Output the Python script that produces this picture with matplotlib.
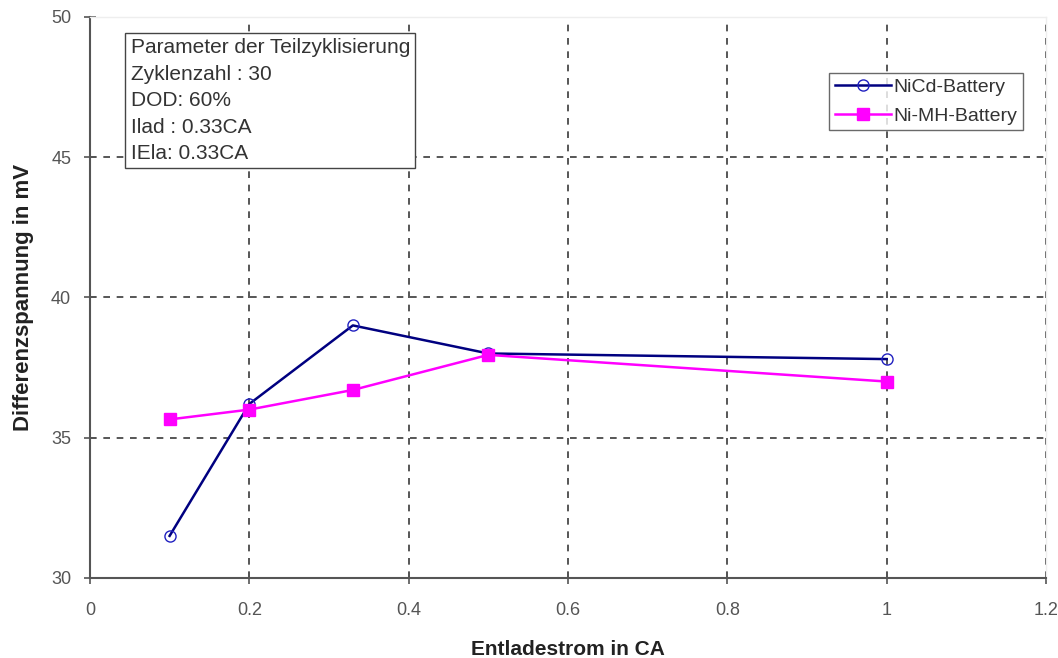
import matplotlib
matplotlib.use("Agg")
import matplotlib.pyplot as plt

# Discharge current (C-rate) and differential voltage (mV)
current_ca = [0.1, 0.2, 0.33, 0.5, 1.0]
nicd_mv = [31.5, 36.2, 39.0, 38.0, 37.8]
nimh_mv = [35.65, 36.0, 36.7, 37.95, 37.0]

x_ticks = [0, 0.2, 0.4, 0.6, 0.8, 1, 1.2]
x_tick_labels = ["0", "0.2", "0.4", "0.6", "0.8", "1", "1.2"]
y_ticks = [30, 35, 40, 45, 50]

params_text = ("Parameter der Teilzyklisierung\n"
               "Zyklenzahl : 30\n"
               "DOD: 60%\n"
               "Ilad : 0.33CA\n"
               "IEla: 0.33CA")

plt.rcParams["font.family"] = ["Liberation Sans", "DejaVu Sans"]

fig = plt.figure(figsize=(10.58, 6.58), dpi=100)
ax = fig.add_axes([0.085, 0.1216, 0.9037, 0.853])

ax.plot(current_ca, nicd_mv, color="#000080", lw=1.8, marker="o",
        markersize=8, markerfacecolor="none", markeredgecolor="#2020c0",
        markeredgewidth=1.0, label="NiCd-Battery", zorder=3)
ax.plot(current_ca, nimh_mv, color="#ff00ff", lw=1.8, marker="s",
        markersize=9, markerfacecolor="#ff00ff", markeredgecolor="#ff00ff",
        label="Ni-MH-Battery", zorder=3)

ax.set_xlim(0, 1.2)
ax.set_ylim(30, 50)
ax.set_xticks(x_ticks)
ax.set_xticklabels(x_tick_labels)
ax.set_yticks(y_ticks)

ax.grid(True, color="#3a3a3a", linestyle=(0, (4, 4)), linewidth=1.2)
ax.set_axisbelow(True)

for side in ("left", "bottom"):
    ax.spines[side].set_color("#555555")
    ax.spines[side].set_linewidth(1.5)
for side in ("top", "right"):
    ax.spines[side].set_color("#eeeeee")
    ax.spines[side].set_linewidth(1.0)

ax.tick_params(axis="both", direction="inout", length=9, width=1.2,
               color="#555555", labelcolor="#555555", labelsize=13)
ax.tick_params(axis="x", pad=13)
ax.tick_params(axis="y", pad=9)

ax.set_xlabel("Entladestrom in CA", fontsize=15, fontweight="bold",
              color="#222222", labelpad=15)
ax.set_ylabel("Differenzspannung in mV", fontsize=16, fontweight="bold",
              color="#222222", labelpad=12)

ax.text(0.0425, 0.962, params_text, transform=ax.transAxes, fontsize=15,
        color="#333333", va="top", ha="left", linespacing=1.5,
        bbox=dict(boxstyle="square,pad=0.25", facecolor="white",
                  edgecolor="#444444", linewidth=1.0), zorder=4)

leg = ax.legend(loc="upper right", bbox_to_anchor=(0.976, 0.9),
                fontsize=14, frameon=True, fancybox=False,
                handlelength=2.9, handletextpad=0.1, borderpad=0.3,
                labelspacing=0.55, borderaxespad=0.0)
leg.get_frame().set_edgecolor("#444444")
leg.get_frame().set_linewidth(1.0)
for t in leg.get_texts():
    t.set_color("#333333")

fig.savefig("out.png", dpi=100, facecolor="white")
